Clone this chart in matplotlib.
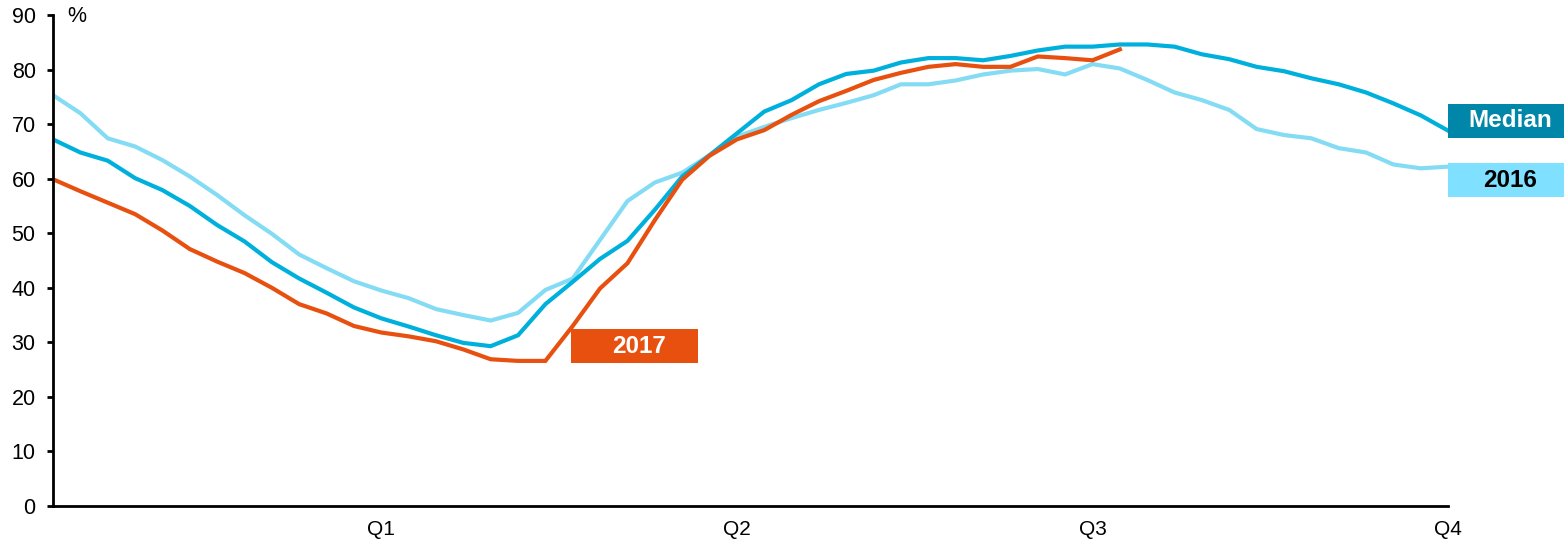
import matplotlib
matplotlib.use("Agg")
import matplotlib.pyplot as plt
from matplotlib.patches import Rectangle

plt.rcParams['font.family'] = ['Liberation Sans', 'DejaVu Sans']

# weekly values, 52 weeks
weeks = list(range(52))

median = [67.2, 64.8, 63.3, 60.1, 57.9, 55.0, 51.5, 48.5, 44.7, 41.7,
          39.1, 36.4, 34.4, 32.9, 31.3, 29.9, 29.3, 31.3, 37.0, 41.1,
          45.3, 48.6, 54.3, 60.4, 64.3, 68.3, 72.3, 74.4, 77.3, 79.2,
          79.8, 81.3, 82.1, 82.1, 81.7, 82.5, 83.5, 84.2, 84.2, 84.6,
          84.6, 84.2, 82.8, 81.9, 80.5, 79.7, 78.4, 77.3, 75.8, 73.8,
          71.6, 68.8]

y2016 = [75.3, 72.0, 67.4, 65.9, 63.4, 60.4, 57.0, 53.3, 49.9, 46.1,
         43.6, 41.2, 39.5, 38.1, 36.1, 35.0, 34.0, 35.4, 39.6, 41.7,
         48.8, 55.9, 59.3, 61.1, 64.3, 67.7, 69.5, 71.1, 72.6, 73.9,
         75.3, 77.3, 77.3, 78.0, 79.1, 79.8, 80.1, 79.1, 81.0, 80.2,
         78.1, 75.8, 74.4, 72.6, 69.1, 68.0, 67.4, 65.6, 64.8, 62.6,
         61.9, 62.2]

y2017 = [59.9, 57.7, 55.6, 53.5, 50.5, 47.1, 44.8, 42.7, 40.0, 37.0,
         35.3, 33.0, 31.8, 31.1, 30.2, 28.7, 26.9, 26.6, 26.6, 33.0,
         39.9, 44.5, 52.4, 59.8, 64.2, 67.2, 68.9, 71.7, 74.2, 76.1,
         78.1, 79.4, 80.5, 81.0, 80.5, 80.5, 82.4, 82.1, 81.7, 83.7]

q_pos = [12, 25, 38, 51]
q_labels = ['Q1', 'Q2', 'Q3', 'Q4']

c_median = '#00B0DC'
c_2016 = '#84DCF4'
c_2017 = '#E8500F'

fig = plt.figure(figsize=(15.64, 5.42), dpi=100)
ax = fig.add_axes([0.0339, 0.0664, 0.8920, 0.9059])

ax.plot(weeks, y2016, color=c_2016, lw=3, solid_joinstyle='miter')
ax.plot(weeks, median, color=c_median, lw=3, solid_joinstyle='miter')
ax.plot(weeks[:len(y2017)], y2017, color=c_2017, lw=3, solid_joinstyle='miter')

ax.set_xlim(0, 51)
ax.set_ylim(0, 90)
ax.set_yticks(range(0, 91, 10))
ax.set_xticks(q_pos)
ax.set_xticklabels(q_labels)
ax.tick_params(axis='x', length=0, labelsize=15, pad=10)
ax.tick_params(axis='y', length=4.5, width=2, labelsize=15.5, pad=8, direction='out')

for s in ['top', 'right']:
    ax.spines[s].set_visible(False)
for s in ['left', 'bottom']:
    ax.spines[s].set_linewidth(2)

ax.text(0.010, 1.018, '%', transform=ax.transAxes, fontsize=15.5, va='top', ha='left')

# label boxes (data units: 1 week ~ 27.35 px)
px = 51 / 1395.0


def label_box(x0, y0, y1, w, text, face, tcolor):
    ax.add_patch(Rectangle((x0, y0), w, y1 - y0, facecolor=face, edgecolor='none',
                           clip_on=False, zorder=5))
    ax.text(x0 + w / 2 + 4 * px, (y0 + y1) / 2, text, color=tcolor, fontsize=17.5,
            fontweight='bold', ha='center', va='center', zorder=6, clip_on=False)


label_box(51, 67.5, 73.7, 116 * px, 'Median', '#0086A8', 'white')
label_box(51, 56.6, 62.9, 116 * px, '2016', '#7FE0FF', 'black')
label_box(18.94, 26.2, 32.4, 127 * px, '2017', c_2017, 'white')

fig.savefig('out.png', dpi=100)
